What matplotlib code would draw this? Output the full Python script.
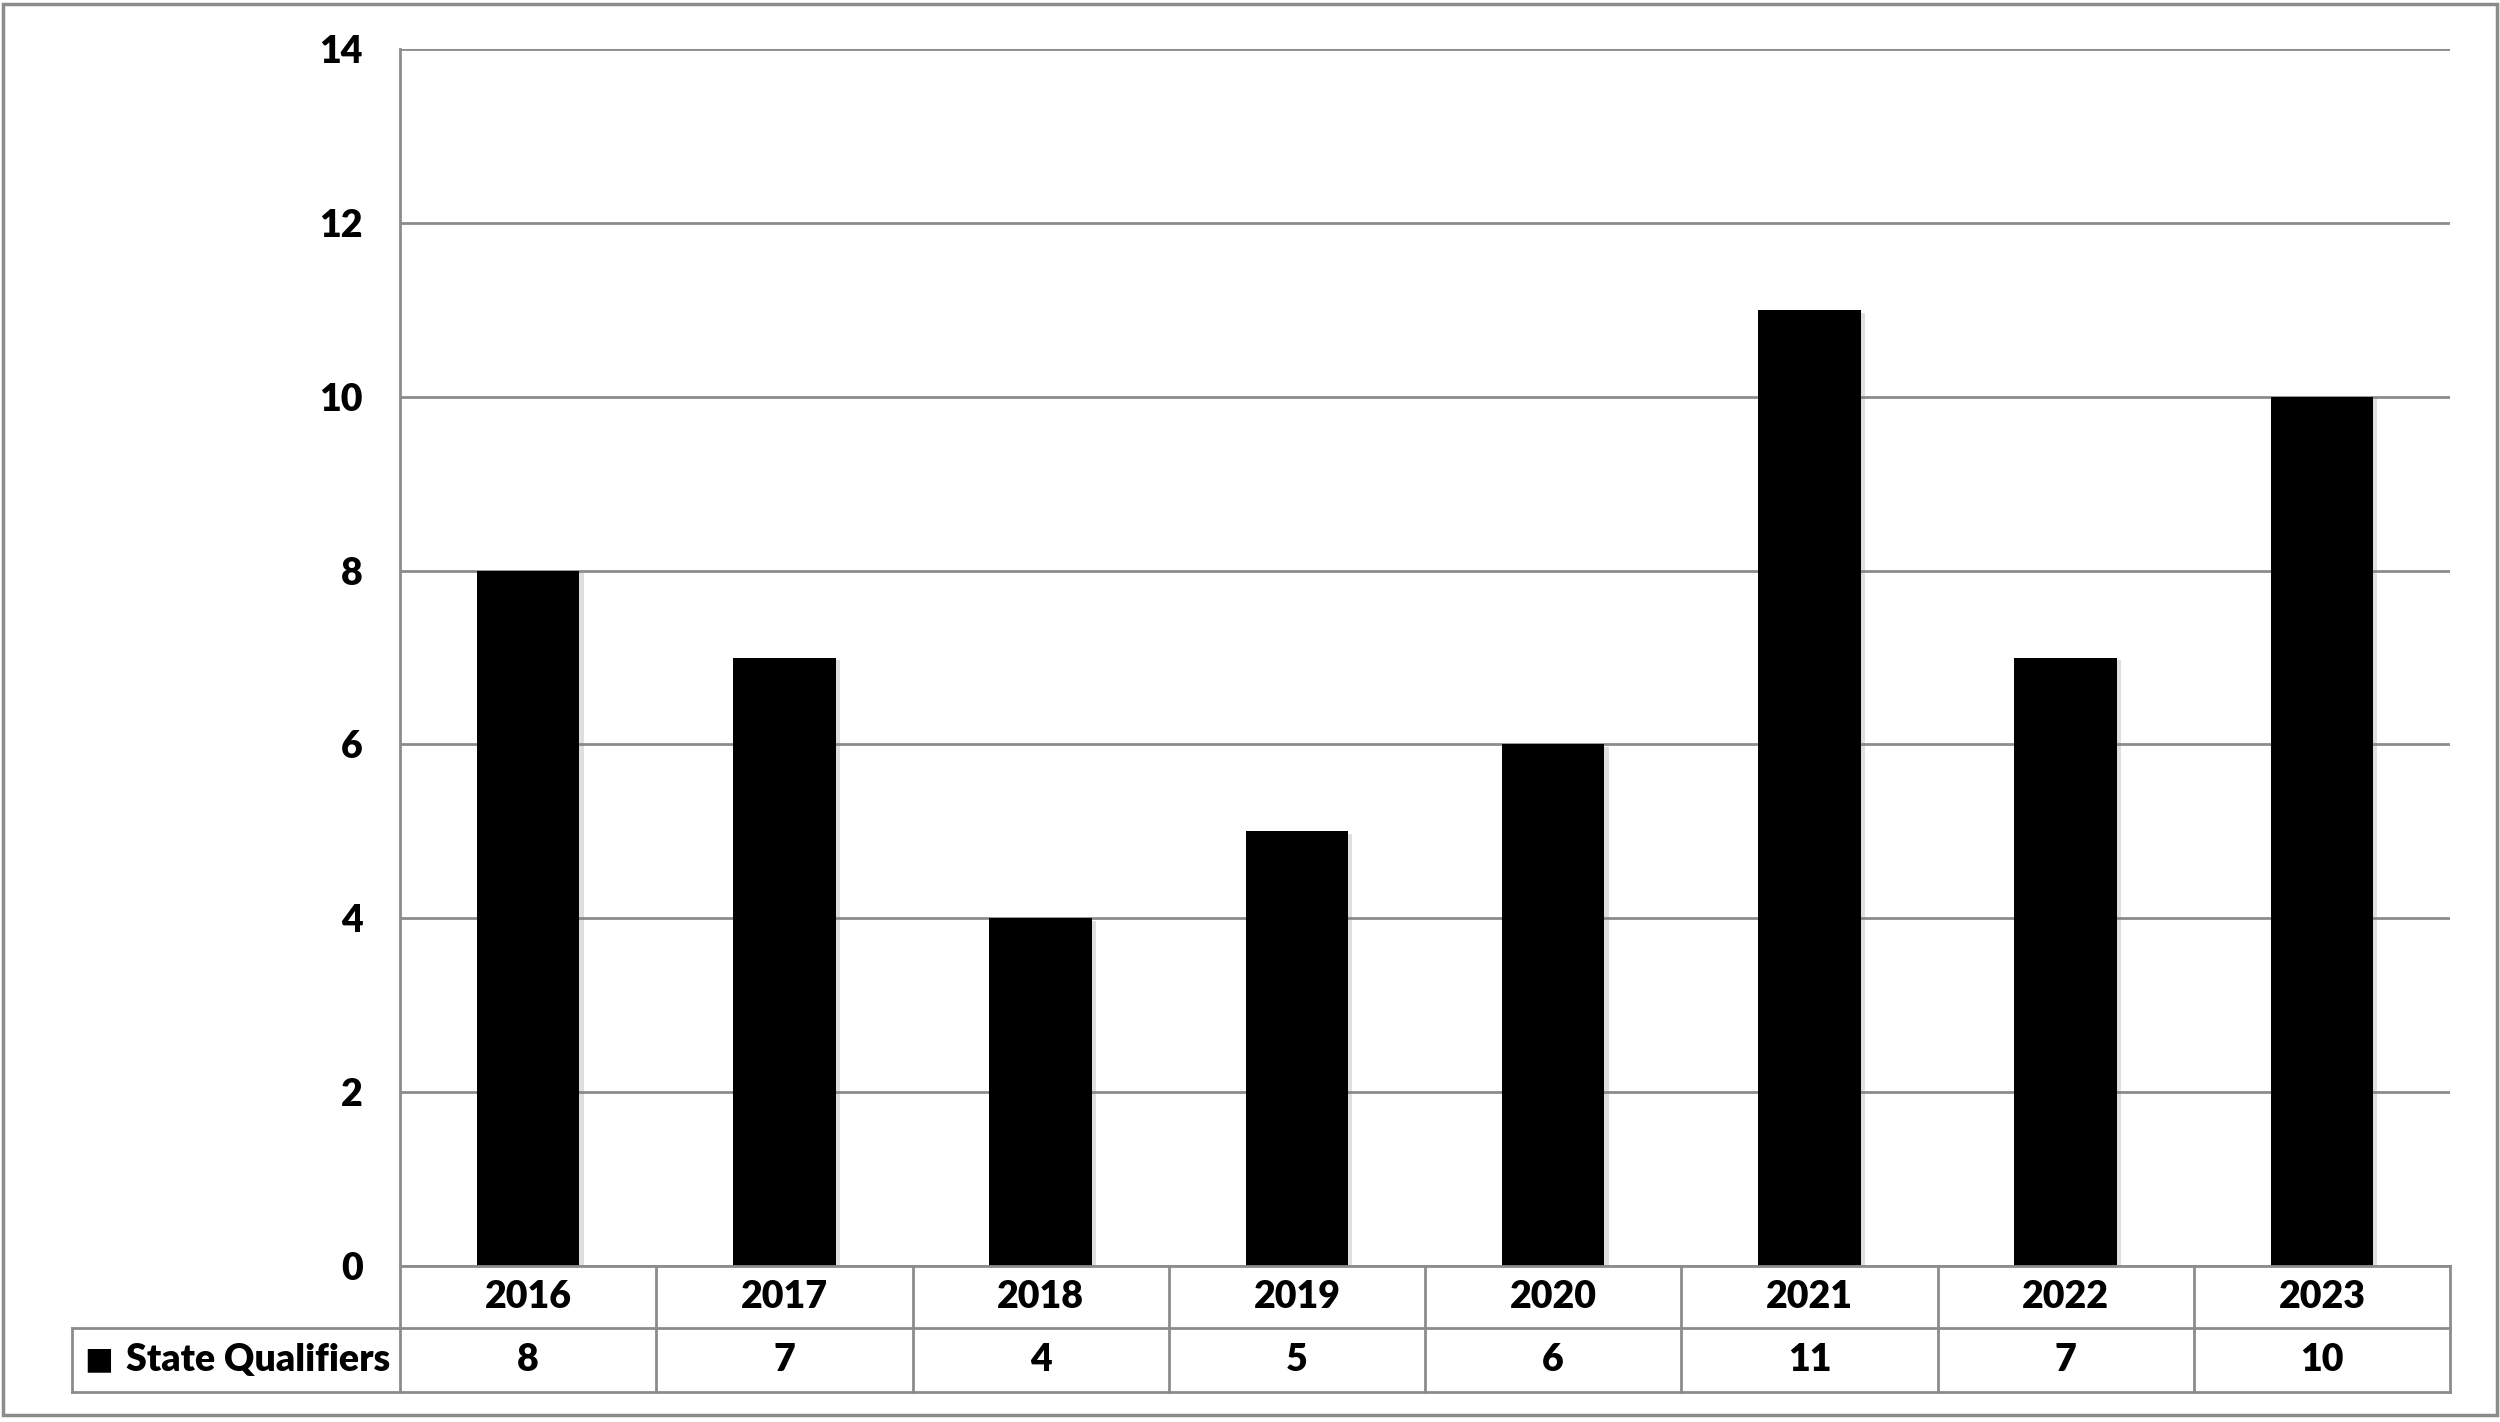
import matplotlib.pyplot as plt
import matplotlib.patheffects as pe
from matplotlib.patches import Rectangle
from matplotlib.lines import Line2D

# Datos
anios = ["2016", "2017", "2018", "2019", "2020", "2021", "2022", "2023"]
clasificados = [8, 7, 4, 5, 6, 11, 7, 10]
serie = "State Qualifiers"

plt.rcParams['font.family'] = ['Lato', 'DejaVu Sans']
gris = "#8c8c8c"
tam = 27
peso = "heavy"

W, H = 2500, 1422
fig = plt.figure(figsize=(25, 14.22), dpi=100)

# Area del grafico (en pixeles de la figura)
izq, der, arriba, abajo = 400, 2450, 49, 1266
ax = fig.add_axes([izq / W, 1 - abajo / H, (der - izq) / W, (abajo - arriba) / H])

x = range(len(anios))
ax.bar(x, clasificados, width=0.4, color="black", zorder=3,
       path_effects=[pe.SimplePatchShadow(offset=(3, -2), shadow_rgbFace="gray", alpha=0.25), pe.Normal()])

ax.set_xlim(-0.5, len(anios) - 0.5)
ax.set_ylim(0, 14)
ax.set_yticks(range(0, 15, 2))
ax.yaxis.grid(True, color=gris, linewidth=2, zorder=0)
ax.set_xticks([])
ax.tick_params(axis="y", length=0, pad=27, labelsize=tam)
for lab in ax.get_yticklabels():
    lab.set_fontweight(peso)
for s in ["top", "right", "bottom"]:
    ax.spines[s].set_visible(False)
ax.spines["left"].set_color(gris)
ax.spines["left"].set_linewidth(2)

# Tabla de datos bajo el grafico
fila1, fila2 = 1328, 1392
leyenda_izq = 72

def fx(px):
    return px / W

def fy(py):
    return 1 - py / H

ancho_cat = (der - izq) / len(anios)
lineas = []
# horizontales
lineas.append(((izq, der), (abajo, abajo)))
lineas.append(((leyenda_izq, der), (fila1, fila1)))
lineas.append(((leyenda_izq, der), (fila2, fila2)))
# verticales
for i in range(len(anios) + 1):
    xp = izq + i * ancho_cat
    lineas.append(((xp, xp), (abajo, fila2)))
lineas.append(((leyenda_izq, leyenda_izq), (fila1, fila2)))
for xs, ys in lineas:
    fig.add_artist(Line2D([fx(v) for v in xs], [fy(v) for v in ys],
                          color=gris, linewidth=2, transform=fig.transFigure))

for i, (a, v) in enumerate(zip(anios, clasificados)):
    xc = izq + (i + 0.5) * ancho_cat
    fig.text(fx(xc), fy((abajo + fila1) / 2), a, ha="center", va="center",
             fontsize=tam, fontweight=peso)
    fig.text(fx(xc), fy((fila1 + fila2) / 2), str(v), ha="center", va="center",
             fontsize=tam, fontweight=peso)

fig.text(fx(leyenda_izq + 12), fy((fila1 + fila2) / 2), "■", ha="left", va="center",
         fontsize=22, family=['DejaVu Sans'])
fig.text(fx(leyenda_izq + 54), fy((fila1 + fila2) / 2), serie, ha="left", va="center",
         fontsize=tam, fontweight=peso)

# Borde exterior
fig.add_artist(Rectangle((fx(3), fy(1415)), fx(2494), 1411 / H, fill=False,
                         edgecolor=gris, linewidth=2.5, transform=fig.transFigure))

fig.savefig("out.png", dpi=100)
